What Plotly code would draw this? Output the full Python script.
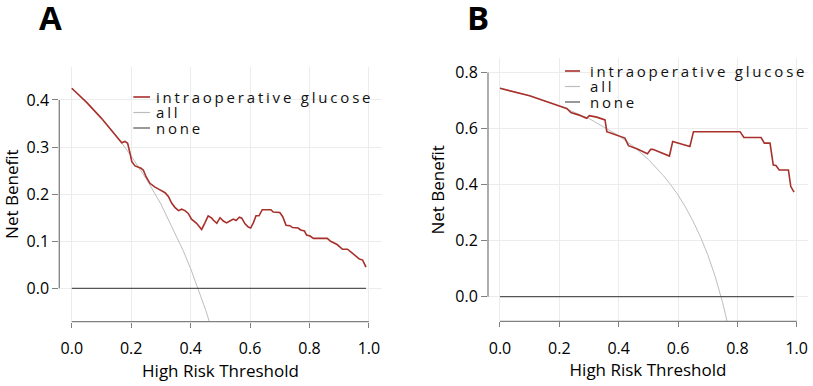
import plotly.graph_objects as go

# ---------------- data ----------------
# Panel A
a_model_t = [0.000, 0.050, 0.100, 0.150, 0.168, 0.179, 0.188, 0.196, 0.202, 0.213,
             0.224, 0.233, 0.241, 0.250, 0.263, 0.280, 0.297, 0.314, 0.325, 0.336,
             0.347, 0.359, 0.370, 0.381, 0.392, 0.403, 0.420, 0.437, 0.448, 0.459,
             0.471, 0.476, 0.488, 0.499, 0.510, 0.521, 0.532, 0.544, 0.553, 0.564,
             0.572, 0.583, 0.594, 0.602, 0.611, 0.620, 0.630, 0.641, 0.670, 0.678,
             0.700, 0.710, 0.721, 0.734, 0.743, 0.762, 0.770, 0.783, 0.790, 0.802,
             0.813, 0.860, 0.871, 0.882, 0.893, 0.911, 0.928, 0.942, 0.955, 0.968,
             0.979, 0.984, 0.990]
a_model_nb = [0.425, 0.395, 0.361, 0.324, 0.309, 0.312, 0.308, 0.287, 0.269, 0.260,
              0.257, 0.255, 0.251, 0.237, 0.223, 0.215, 0.209, 0.203, 0.195, 0.181,
              0.172, 0.165, 0.168, 0.165, 0.159, 0.147, 0.138, 0.125, 0.139, 0.154,
              0.149, 0.145, 0.138, 0.150, 0.143, 0.139, 0.143, 0.147, 0.144, 0.151,
              0.149, 0.137, 0.130, 0.128, 0.139, 0.154, 0.154, 0.167, 0.167, 0.162,
              0.161, 0.152, 0.134, 0.133, 0.129, 0.128, 0.124, 0.122, 0.113, 0.111,
              0.106, 0.106, 0.100, 0.096, 0.093, 0.083, 0.083, 0.076, 0.069, 0.062,
              0.060, 0.053, 0.045]
a_all_t = [0.000, 0.050, 0.100, 0.150, 0.200, 0.250, 0.300, 0.350, 0.375, 0.400,
           0.425, 0.450, 0.460, 0.480]
a_all_nb = [0.425, 0.395, 0.361, 0.324, 0.281, 0.233, 0.179, 0.115, 0.080, 0.042,
            0.000, -0.045, -0.065, -0.106]

# Panel B
b_model_t = [0.000, 0.100, 0.200, 0.225, 0.239, 0.264, 0.292, 0.301, 0.326, 0.354,
             0.360, 0.382, 0.404, 0.421, 0.433, 0.461, 0.497, 0.508, 0.515, 0.571,
             0.582, 0.640, 0.652, 0.809, 0.822, 0.880, 0.891, 0.910, 0.921, 0.930,
             0.941, 0.972, 0.980, 0.991]
b_model_nb = [0.744, 0.717, 0.681, 0.672, 0.657, 0.649, 0.637, 0.646, 0.641, 0.631,
              0.589, 0.580, 0.571, 0.566, 0.539, 0.528, 0.510, 0.526, 0.526, 0.502,
              0.554, 0.536, 0.589, 0.589, 0.568, 0.568, 0.548, 0.548, 0.470, 0.468,
              0.452, 0.452, 0.393, 0.373]
b_all_t = [0.000, 0.100, 0.200, 0.300, 0.400, 0.450, 0.500, 0.550, 0.575, 0.600,
           0.625, 0.650, 0.675, 0.700, 0.725, 0.740, 0.750, 0.770]
b_all_nb = [0.745, 0.717, 0.681, 0.636, 0.575, 0.536, 0.490, 0.433, 0.400, 0.363,
            0.320, 0.271, 0.215, 0.150, 0.073, 0.019, -0.020, -0.109]

none_t = [0.0, 0.99]
none_nb = [0.0, 0.0]

panel_labels = ["A", "B"]
legend_labels = ["intraoperative glucose", "all", "none"]
x_ticks = [0.0, 0.2, 0.4, 0.6, 0.8, 1.0]
a_y_ticks = [0.0, 0.1, 0.2, 0.3, 0.4]
b_y_ticks = [0.0, 0.2, 0.4, 0.6, 0.8]

# ---------------- styling ----------------
W, H = 813, 386
RED = "#A8302B"
ALLC = "#BDBDBD"
NONEC = "#555555"
AXC = "#808080"
GRID = "#ECECEC"
FONT = "Open Sans"


def px(x):
    return x / W


def py(y):
    return 1 - y / H


fig = go.Figure()

series = [
    (a_all_t, a_all_nb, ALLC, 1.0, "x", "y"),
    (none_t, none_nb, NONEC, 1.2, "x", "y"),
    (a_model_t, a_model_nb, RED, 1.6, "x", "y"),
    (b_all_t, b_all_nb, ALLC, 1.0, "x2", "y2"),
    (none_t, none_nb, NONEC, 1.2, "x2", "y2"),
    (b_model_t, b_model_nb, RED, 1.6, "x2", "y2"),
]
for xs, ys, col, wd, xa, ya in series:
    fig.add_trace(go.Scatter(x=xs, y=ys, mode="lines", xaxis=xa, yaxis=ya,
                             line=dict(color=col, width=wd), showlegend=False,
                             hoverinfo="skip"))

tickfont = dict(family=FONT, size=16, color="#000000")
titlefont = dict(family=FONT, size=17, color="#000000")

common_x = dict(tickmode="array", tickvals=x_ticks, tickformat=".1f",
                showgrid=True, gridcolor=GRID, gridwidth=1, zeroline=False,
                showline=False, ticks="outside", ticklen=5, tickwidth=1.3,
                tickcolor=AXC, tickfont=tickfont, ticklabelstandoff=7,
                automargin=False,
                title=dict(text="High Risk Threshold", font=titlefont, standoff=6))
common_y = dict(tickformat=".1f", showgrid=True, gridcolor=GRID, gridwidth=1,
                zeroline=False, showline=False, ticks="outside", ticklen=6,
                tickwidth=1.3, tickcolor=AXC, tickfont=tickfont, automargin=False,
                title=dict(text="Net Benefit", font=titlefont, standoff=6))

fig.update_layout(
    width=W, height=H, margin=dict(l=0, r=0, t=0, b=0, autoexpand=False),
    paper_bgcolor="white", plot_bgcolor="white",
    xaxis=dict(common_x, domain=[px(59.3), px(381.7)], range=[-0.042, 1.043], anchor="y"),
    yaxis=dict(common_y, domain=[py(321.7), py(66.7)], range=[-0.0709, 0.4707],
               tickmode="array", tickvals=a_y_ticks, anchor="x"),
    xaxis2=dict(common_x, domain=[px(488.0), px(808.0)], range=[-0.0404, 1.038], anchor="y2"),
    yaxis2=dict(common_y, domain=[py(321.3), py(58.3)], range=[-0.088, 0.851],
                tickmode="array", tickvals=b_y_ticks, anchor="x2"),
)

shapes = []
annotations = []
# axis lines spanning only the tick range (R base style)
for xa, ya, yt in [("x", "y", a_y_ticks), ("x2", "y2", b_y_ticks)]:
    shapes.append(dict(type="line", xref=f"{xa} domain", yref=ya, x0=0, x1=0,
                       y0=yt[0], y1=yt[-1], line=dict(color=AXC, width=1.3)))
    shapes.append(dict(type="line", xref=xa, yref=f"{ya} domain", x0=x_ticks[0],
                       x1=x_ticks[-1], y0=0, y1=0, line=dict(color=AXC, width=1.3)))

# panel letters
for lab, cx in zip(panel_labels, [50.8, 478.3]):
    annotations.append(dict(text=f"<b>{lab}</b>", xref="paper", yref="paper",
                            x=px(cx), y=py(17.5), xanchor="center", yanchor="middle",
                            showarrow=False,
                            font=dict(family=FONT, size=33, color="#000000")))

# manual legends
leg_colors = [RED, ALLC, NONEC]
leg_widths = [1.6, 1.2, 1.2]
for (lx0, lx1, tx, rows) in [(133.3, 150.0, 154.0, [96.5, 112.0, 127.5]),
                              (565.0, 580.0, 587.5, [70.5, 86.0, 101.5])]:
    for lab, col, wd, ry in zip(legend_labels, leg_colors, leg_widths, rows):
        shapes.append(dict(type="line", xref="paper", yref="paper", x0=px(lx0), x1=px(lx1),
                           y0=py(ry + 0.5), y1=py(ry + 0.5), line=dict(color=col, width=wd)))
        annotations.append(dict(text=f'<span style="letter-spacing:2.8px">{lab}</span>',
                                xref="paper", yref="paper", x=px(tx), y=py(ry),
                                xanchor="left", yanchor="middle", showarrow=False,
                                font=dict(family=FONT, size=15, color="#111111")))

fig.update_layout(shapes=shapes, annotations=annotations)
# the figure fills the whole 813x386 window: drop the page's default body margin
fig.write_html("out.html",
               config={"displayModeBar": False},
               post_script="document.body.style.margin='0px';"
                           "document.body.style.overflow='hidden';")
